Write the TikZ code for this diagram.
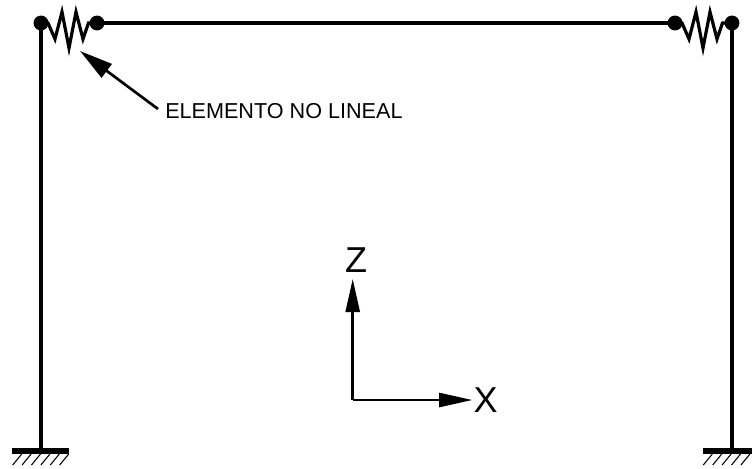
\documentclass[tikz,border=0pt]{standalone}
\usepackage{fontspec}
\setmainfont{Liberation Sans}
\usetikzlibrary{arrows.meta}
\usetikzlibrary{calc}

\begin{document}
\begin{tikzpicture}[x=0.75pt,y=-0.75pt]

		\tikzstyle{joint}  = [circle, minimum width=11.2pt, draw=none, inner sep=0pt, outer sep=-1.5pt, fill=black]
		\tikzstyle{member} = [line width=3pt]
		\tikzstyle{spring} = [line width=2.4pt, line join=miter]
		\tikzstyle{plate}  = [line width=4.8pt]
		\tikzstyle{hatch}  = [line width=0.8pt]
		\tikzstyle{axis}   = [line width=2.1pt, -{Triangle[length=25pt,width=10.5pt]}, shorten >=-0.5pt]
		\tikzstyle{leader} = [line width=2pt, -{Triangle[length=25pt,width=12.5pt]}]
		\useasboundingbox (0,0) rectangle (752,468);

		\node [joint](a1) at (41,23) {};
		\node [joint](a2) at (97,23) {};
		\node [joint](b1) at (675,23) {};
		\node [joint](b2) at (732,23) {};
		\coordinate (a0) at (41,451);
		\coordinate (b0) at (732,451);
		\coordinate (g1) at (12,451);
		\coordinate (g2) at (69,451);
		\coordinate (g3) at (703,451);
		\coordinate (g4) at (752,451);

		\draw [member] (a0) -- (a1);
		\draw [member] (b0) -- (b2);
		\draw [member] (a2) -- (b1);
		\draw [plate] (g1) -- (g2);
		\draw [plate] (g3) -- (g4);

		\foreach \from/\to in {a1/a2, b1/b2}
			\draw [spring] (\from) -- ++(7,0) -- ++(7,16) -- ++(7,-27) -- ++(7,36)
				-- ++(7,-36) -- ++(7,27) -- ++(5.5,-16) -- (\to);

		\foreach \i in {0,...,5}
			\draw [hatch] (12.7+9.4*\i,465) -- ++(9,-11);
		\foreach \i in {0,...,4}
			\draw [hatch] (703.3+9.4*\i,465) -- ++(9,-11);

		\coordinate (o) at (352.7,400);
		\node (z) at (356,260.5) {\fontsize{27pt}{27pt}\selectfont Z};
		\node (x) at (485.7,400) {\fontsize{27pt}{27pt}\selectfont X};
		\coordinate (ztip) at (352.7,279.5);
		\coordinate (xtip) at (471.7,400);
		\draw [axis] (o) -- (ztip);
		\draw [axis] (o) -- (xtip);

		\node [anchor=west, inner sep=0pt](label) at (165,111.5) {\fontsize{16.2pt}{16.2pt}\selectfont ELEMENTO NO LINEAL};
		\coordinate (ltail) at (158,109);
		\coordinate (ltip) at (80,51);
		\draw [leader] (ltail) -- (ltip);
\end{tikzpicture}
\end{document}
